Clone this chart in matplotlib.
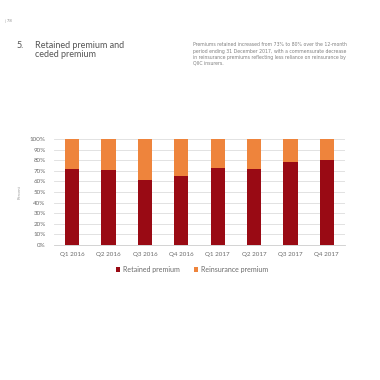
import matplotlib
matplotlib.use("Agg")
import matplotlib.pyplot as plt
import numpy as np

quarters = ["Q1 2016", "Q2 2016", "Q3 2016", "Q4 2016", "Q1 2017", "Q2 2017", "Q3 2017", "Q4 2017"]
retained = [72, 71, 61, 65, 73, 72, 78, 80]
reinsurance = [100 - r for r in retained]
yticks = [0, 10, 20, 30, 40, 50, 60, 70, 80, 90, 100]

plt.rcParams['font.family'] = ['Lato', 'DejaVu Sans']

fig = plt.figure(figsize=(3.8, 3.8), dpi=100)
fig.patch.set_facecolor("white")

txt = "#6b6b6b"
fig.text(5/380, 1 - 21/380, "| 78", fontsize=3, color="#888888", va="center")
fig.text(17/380, 1 - 46/380, "5.", fontsize=6.5, color="#555555", va="center")
fig.text(35/380, 1 - 50/380, "Retained premium and\nceded premium", fontsize=6.5, color="#555555",
         va="center", linespacing=1.0)
fig.text(193/380, 1 - 54/380,
         "Premiums retained increased from 73% to 80% over the 12-month\n"
         "period ending 31 December 2017, with a commensurate decrease\n"
         "in reinsurance premiums reflecting less reliance on reinsurance by\n"
         "QIIC insurers.",
         fontsize=3.3, color="#808080", va="center", linespacing=1.25,
         family=["DejaVu Sans"])

ax = fig.add_axes([54/380, 1 - 245/380, (345 - 54)/380, (245 - 139)/380])
x = np.arange(len(quarters))
ax.bar(x, retained, width=0.39, color="#990a14", label="Retained premium", zorder=3)
ax.bar(x, reinsurance, width=0.39, bottom=retained, color="#ee843c", label="Reinsurance premium", zorder=3)

ax.set_xlim(-0.5, 7.5)
ax.set_ylim(0, 100)
ax.set_yticks(yticks)
ax.set_yticklabels([f"{t}%" for t in yticks])
ax.set_xticks(x)
ax.set_xticklabels(quarters)
ax.grid(axis="y", color="#dddddd", linewidth=0.6, zorder=0)
for s in ["top", "right", "left"]:
    ax.spines[s].set_visible(False)
ax.spines["bottom"].set_color("#cccccc")
ax.spines["bottom"].set_linewidth(0.6)
ax.tick_params(axis="both", length=0, labelsize=4.5, labelcolor=txt)
ax.tick_params(axis="x", pad=5)
ax.tick_params(axis="y", pad=6)
ax.set_ylabel("Percent", fontsize=3, color="#999999", labelpad=6)

ax.legend(loc="upper center", bbox_to_anchor=(0.475, -0.14), ncol=2, frameon=False,
          fontsize=5, labelcolor=txt, handlelength=0.6, handleheight=0.6,
          handletextpad=0.4, columnspacing=2.0)

fig.savefig("out.png", dpi=100, facecolor="white")
